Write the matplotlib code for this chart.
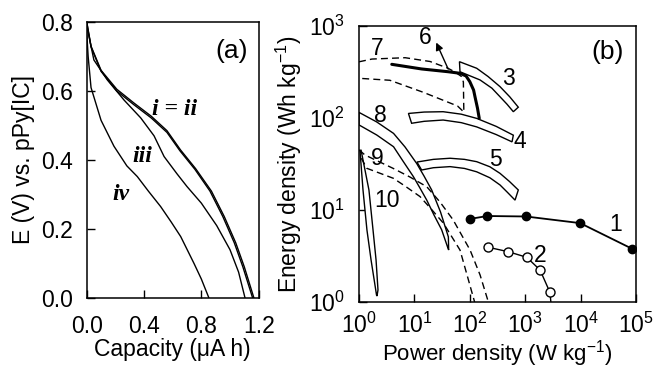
import matplotlib
matplotlib.use("Agg")
import matplotlib.pyplot as plt
from matplotlib.ticker import NullLocator, FixedLocator
from matplotlib.patches import Polygon

plt.rcParams['font.family'] = ['Liberation Sans', 'DejaVu Sans']
plt.rcParams['mathtext.fontset'] = 'custom'
plt.rcParams['mathtext.rm'] = 'Liberation Sans'
plt.rcParams['mathtext.it'] = 'Liberation Sans:italic'
plt.rcParams['mathtext.default'] = 'regular'

FS = 16.5

# ---------------- Panel (a) data: discharge curves ----------------
cap_i = [0.0, 0.03, 0.10, 0.21, 0.33, 0.45, 0.56, 0.655, 0.76, 0.87, 0.96, 1.04, 1.10, 1.167]
E_i = [0.80, 0.73, 0.66, 0.605, 0.565, 0.527, 0.485, 0.429, 0.375, 0.31, 0.236, 0.16, 0.09, 0.0]
cap_ii = [0.0, 0.03, 0.10, 0.21, 0.33, 0.45, 0.56, 0.65, 0.755, 0.86, 0.95, 1.03, 1.09, 1.158]
E_ii = [0.80, 0.728, 0.657, 0.60, 0.56, 0.522, 0.48, 0.427, 0.373, 0.31, 0.236, 0.16, 0.09, 0.0]
cap_iii = [0.0, 0.05, 0.144, 0.26, 0.377, 0.47, 0.54, 0.63, 0.70, 0.80, 0.907, 1.0, 1.06, 1.105]
E_iii = [0.79, 0.69, 0.632, 0.574, 0.522, 0.47, 0.41, 0.36, 0.323, 0.275, 0.21, 0.14, 0.075, 0.0]
cap_iv = [0.0, 0.01, 0.03, 0.10, 0.19, 0.28, 0.353, 0.43, 0.516, 0.59, 0.656, 0.749, 0.80, 0.853]
E_iv = [0.77, 0.70, 0.61, 0.515, 0.44, 0.383, 0.352, 0.31, 0.265, 0.22, 0.178, 0.10, 0.055, 0.0]

# ---------------- Panel (b) data: Ragone plot ----------------
p1_power = [101, 207, 1030, 9800, 84000]
p1_energy = [8.0, 8.6, 8.5, 7.2, 3.8]
p2_power = [216, 495, 1065, 1850, 2800, 2950]
p2_energy = [3.93, 3.52, 3.06, 2.23, 1.27, 0.9]

b3_up_x = [65, 133, 214, 351, 525, 750]
b3_up_y = [409, 347, 282, 219, 170, 131]
b3_lo_x = [66.5, 153, 250, 351, 470, 610]
b3_lo_y = [318, 259, 211, 170, 141, 117]

b4_up_x = [7.8, 15, 33, 70, 133, 300, 610]
b4_up_y = [112, 116, 117, 110, 99, 81, 65]
b4_lo_x = [8.9, 15, 33, 70, 133, 300, 578]
b4_lo_y = [87.6, 92, 95, 89, 80, 66, 55]

b5_up_x = [11.1, 22, 44, 80, 133, 230, 351, 520, 750]
b5_up_y = [33.2, 35.5, 36.5, 35.5, 33.5, 29.5, 25, 20.4, 16.5]
b5_lo_x = [13.5, 22, 44, 80, 133, 230, 351, 480, 655]
b5_lo_y = [27.2, 28.8, 29.6, 28.3, 26, 22.4, 18.7, 15.5, 12.8]

b8_up_x = [1, 2.09, 4.2, 6.77, 11, 14.9, 20.5, 29.6, 41, 41.5]
b8_up_y = [115, 90.5, 68, 48.4, 32, 23.4, 16.5, 9.5, 5.1, 3.67]
b8_lo_x = [1, 2.09, 4.2, 6.2, 9.6, 12.6, 16.7, 22.6, 31, 40]
b8_lo_y = [84, 65.3, 48.7, 34.1, 23, 17.3, 12.8, 8.8, 6.1, 3.9]

b10_l_x = [1.04, 1.18, 1.39, 1.65, 2.07]
b10_l_y = [44.6, 16.5, 6.06, 2.86, 1.19]
b10_r_x = [1.09, 1.51, 1.79, 2.03, 2.2, 2.11]
b10_r_y = [44.6, 16.5, 6.06, 2.86, 1.35, 1.16]

c9a_x = [1, 1.28, 4.1, 8.33, 16.7, 29, 50, 101, 153, 216]
c9a_y = [45, 39.6, 28.4, 22.8, 17.9, 12.2, 7.8, 3.67, 1.97, 1.0]
c9b_x = [1.1, 1.38, 4.17, 6.77, 12.6, 20.8, 33.3, 66.5, 89, 122]
c9b_y = [36.5, 28.4, 22.1, 18.2, 14, 10, 7.2, 3.67, 1.97, 1.0]

c7_up_x = [1, 1.71, 6.8, 19.2, 40, 54, 71, 76.5, 78]
c7_up_y = [408, 437, 452, 411, 348, 316, 282, 246, 116]
c7_lo_x = [1, 3.6, 14.5, 60, 78]
c7_lo_y = [270, 257, 190, 135, 116]

c6_x = [3.9, 13.5, 41, 66.5, 85.6, 100, 117, 124, 137.5, 148]
c6_y = [383, 341, 318, 306, 286, 248, 201, 170, 128, 99]
arrow6_from = (42.7, 319)
arrow6_to = (23.6, 704)

fig = plt.figure(figsize=(6.53, 3.69), dpi=100)

# ---------------- Panel (a) ----------------
axa = fig.add_axes([0.1328, 0.1924, 0.2633, 0.748])
for cx, cy in [(cap_i, E_i), (cap_ii, E_ii), (cap_iii, E_iii), (cap_iv, E_iv)]:
    axa.plot(cx, cy, color='black', lw=1.0)
axa.set_xlim(0, 1.2)
axa.set_ylim(0, 0.8)
axa.set_xticks([0.0, 0.4, 0.8, 1.2])
axa.set_yticks([0.0, 0.2, 0.4, 0.6, 0.8])
axa.set_xticklabels(['0.0', '0.4', '0.8', '1.2'])
axa.set_yticklabels(['0.0', '0.2', '0.4', '0.6', '0.8'])
axa.set_xlabel('Capacity (\u03bcA h)', fontsize=FS, va='center')
axa.xaxis.set_label_coords(0.5, -0.188)
axa.set_ylabel('E (V) vs. pPy[IC]', fontsize=FS, labelpad=4)
axa.text(1.01, 0.716, '(a)', fontsize=19, ha='center', va='center')
lab_font = dict(family='Liberation Serif', style='italic', weight='bold', fontsize=17)
axa.text(0.61, 0.545, 'i = ii', ha='center', va='center', **lab_font)
axa.text(0.387, 0.41, 'iii', ha='center', va='center', **lab_font)
axa.text(0.237, 0.30, 'iv', ha='center', va='center', **lab_font)

# ---------------- Panel (b) ----------------
axb = fig.add_axes([0.5498, 0.1816, 0.4242, 0.748])
axb.set_xscale('log')
axb.set_yscale('log')
axb.set_xlim(1, 1e5)
axb.set_ylim(1, 1e3)

def band(ax, ux, uy, lx, ly, z=2):
    pts = list(zip(ux, uy)) + list(zip(lx[::-1], ly[::-1]))
    ax.add_patch(Polygon(pts, closed=True, facecolor='white', edgecolor='black', lw=1.0, zorder=z))

band(axb, b3_up_x, b3_up_y, b3_lo_x, b3_lo_y)
band(axb, b4_up_x, b4_up_y, b4_lo_x, b4_lo_y)
band(axb, b5_up_x, b5_up_y, b5_lo_x, b5_lo_y)
axb.plot(c9a_x, c9a_y, color='black', lw=1.0, ls=(0, (5, 3)), zorder=3)
axb.plot(c9b_x, c9b_y, color='black', lw=1.0, ls=(0, (5, 3)), zorder=3)
band(axb, b8_up_x, b8_up_y, b8_lo_x, b8_lo_y, z=2)
band(axb, b10_l_x, b10_l_y, b10_r_x, b10_r_y, z=2)
c7x = c7_up_x + c7_lo_x[::-1]
c7y = c7_up_y + c7_lo_y[::-1]
axb.plot(c7x, c7y, color='black', lw=1.0, ls=(0, (5, 3)), zorder=3)
axb.plot(c6_x, c6_y, color='black', lw=2.2, zorder=4, solid_capstyle='round')
axb.annotate('', xy=arrow6_to, xytext=arrow6_from,
             arrowprops=dict(arrowstyle='-|>', color='black', lw=1.0, mutation_scale=11), zorder=5)

axb.plot(p1_power, p1_energy, color='black', lw=1.3, marker='o', ms=6,
         mfc='black', mec='black', zorder=5)
axb.plot(p2_power, p2_energy, color='black', lw=1.0, marker='o', ms=6.5,
         mfc='white', mec='black', mew=1.0, markevery=list(range(len(p2_power) - 1)), zorder=5)

lab_b = [('7', 2.09, 573), ('6', 15.5, 741), ('3', 495, 270), ('4', 805, 55),
         ('8', 2.39, 107), ('5', 285, 35), ('9', 2.09, 36.5), ('10', 3.16, 12.8),
         ('1', 4.2e4, 6.9), ('2', 1850, 3.24)]
for t, x, y in lab_b:
    axb.text(x, y, t, fontsize=FS, ha='center', va='center', zorder=6)
axb.text(31000, 525, '(b)', fontsize=19, ha='center', va='center')

axb.xaxis.set_major_locator(FixedLocator([1, 10, 100, 1e3, 1e4, 1e5]))
axb.yaxis.set_major_locator(FixedLocator([1, 10, 100, 1e3]))
axb.xaxis.set_minor_locator(NullLocator())
axb.yaxis.set_minor_locator(NullLocator())
axb.set_xticklabels([r'$10^{0}$', r'$10^{1}$', r'$10^{2}$', r'$10^{3}$', r'$10^{4}$', r'$10^{5}$'])
axb.set_yticklabels([r'$10^{0}$', r'$10^{1}$', r'$10^{2}$', r'$10^{3}$'])
axb.set_xlabel('Power density (W kg$^{-1}$)', fontsize=16, va='center')
axb.xaxis.set_label_coords(0.5, -0.186)
axb.set_ylabel('Energy density (Wh kg$^{-1}$)', fontsize=FS, labelpad=4)

for ax in (axa, axb):
    ax.tick_params(direction='in', length=6, width=1.0, labelsize=FS,
                   top=False, right=False)
    ax.tick_params(axis='y', pad=10)
axa.tick_params(axis='x', pad=12)
axb.tick_params(axis='x', pad=8)
for ax in (axa, axb):
    for s in ax.spines.values():
        s.set_linewidth(1.1)

fig.savefig('out.png', dpi=100)
